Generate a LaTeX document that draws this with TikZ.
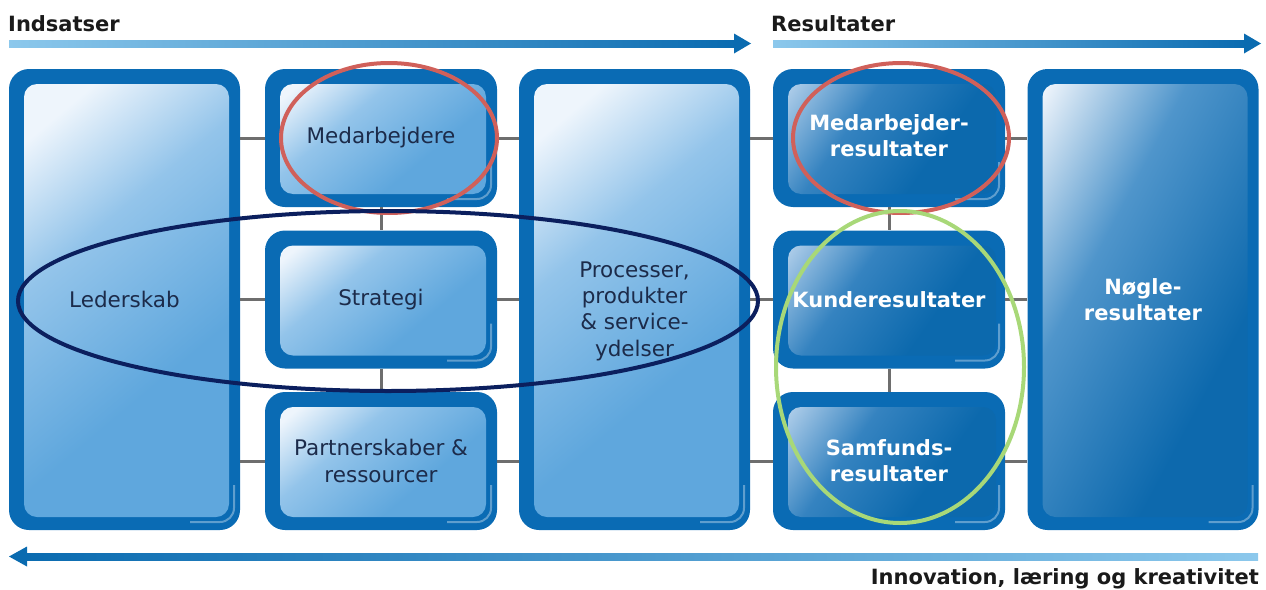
\documentclass[tikz,border=0pt]{standalone}
\usepackage{fontspec}
\setmainfont{DejaVu Sans}
\usetikzlibrary{shapes.geometric}
\definecolor{obox}{HTML}{0A6BB4}
\definecolor{inA}{HTML}{EEF5FC}
\definecolor{inB}{HTML}{93C4EA}
\definecolor{inC}{HTML}{5FA7DD}
\definecolor{rsA}{HTML}{B6D2EC}
\definecolor{rsB}{HTML}{3583C0}
\definecolor{rsC}{HTML}{0C69AD}
\definecolor{ngA}{HTML}{EEF4FB}
\definecolor{ngB}{HTML}{4F95CB}
\definecolor{ngC}{HTML}{0D69AD}
\definecolor{navytext}{HTML}{1C2B4A}
\definecolor{conngray}{HTML}{6E6E6E}
\definecolor{barL}{HTML}{8CC8EC}
\definecolor{barD}{HTML}{0A6BB0}
\definecolor{redell}{HTML}{D0605A}
\definecolor{navyell}{HTML}{0B1F5E}
\definecolor{greenell}{HTML}{A8D878}
\definecolor{headtext}{HTML}{1A1A1A}
\pgfdeclareverticalshading{inshade}{100bp}{color(0bp)=(inC); color(38bp)=(inC); color(60bp)=(inB); color(76bp)=(inA); color(100bp)=(inA)}
\pgfdeclareverticalshading{resshade}{100bp}{color(0bp)=(rsC); color(38bp)=(rsC); color(60bp)=(rsB); color(80bp)=(rsA); color(100bp)=(rsA)}
\pgfdeclareverticalshading{keyshade}{100bp}{color(0bp)=(ngC); color(34bp)=(ngC); color(60bp)=(ngB); color(80bp)=(ngA); color(100bp)=(ngA)}
\begin{document}
\begin{tikzpicture}[x=1pt,y=-1pt,
  outerbox/.style={rounded corners=20pt, fill=obox, inner sep=0pt, align=center},
  glossline/.style={white, opacity=.35, line width=2pt, rounded corners=0pt},
  inbox/.style={outerbox, text=navytext, font=\fontsize{21.5}{26.3}\selectfont,
    path picture={\shade[rounded corners=13pt, shading=inshade, shading angle=40]
      ([shift={(15,15)}]path picture bounding box.north west) rectangle
      ([shift={(-11,-13)}]path picture bounding box.south east);
      \draw[glossline]
      ([shift={(-6,-45)}]path picture bounding box.south east) -- ([shift={(-6,-22)}]path picture bounding box.south east)
      arc[start angle=0, end angle=90, radius=14] -- ++(-30,0);}},
  resbox/.style={outerbox, text=white, font=\bfseries\fontsize{21}{26}\selectfont,
    path picture={\shade[rounded corners=13pt, shading=resshade, shading angle=55]
      ([shift={(15,15)}]path picture bounding box.north west) rectangle
      ([shift={(-9,-13)}]path picture bounding box.south east);
      \draw[glossline]
      ([shift={(-6,-45)}]path picture bounding box.south east) -- ([shift={(-6,-22)}]path picture bounding box.south east)
      arc[start angle=0, end angle=90, radius=14] -- ++(-30,0);}},
  keybox/.style={outerbox, text=white, font=\bfseries\fontsize{21}{26}\selectfont,
    path picture={\shade[rounded corners=13pt, shading=keyshade, shading angle=62]
      ([shift={(15,15)}]path picture bounding box.north west) rectangle
      ([shift={(-11,-13)}]path picture bounding box.south east);
      \draw[glossline]
      ([shift={(-6,-45)}]path picture bounding box.south east) -- ([shift={(-6,-22)}]path picture bounding box.south east)
      arc[start angle=0, end angle=90, radius=14] -- ++(-30,0);}},
  tall/.style={minimum width=231pt, minimum height=461pt},
  small/.style={minimum width=232pt, minimum height=138pt},
  conn/.style={draw=conngray, line width=3pt},
  head/.style={font=\bfseries\fontsize{21}{25}\selectfont, text=headtext, inner sep=0pt},
  ring/.style={ellipse, draw, line width=4pt, inner sep=0pt}
]
\useasboundingbox (0,0) rectangle (1266,589);

% boxes
\node[inbox, tall] (led) at (124.5,299.5) {Lederskab};
\node[inbox, small] (med) at (381,138) {Medarbejdere};
\node[inbox, small] (str) at (381,299.5) {Strategi};
\node[inbox, small] (par) at (381,461) {Partnerskaber \&\\ressourcer};
\node[inbox, tall] (pro) at (634.5,299.5) {\raisebox{-17pt}[0pt][0pt]{\begin{tabular}{@{}c@{}}Processer,\\produkter\\\& service-\\ydelser\end{tabular}}};
\node[resbox, small] (mr) at (889,138) {\raisebox{-5pt}[0pt][0pt]{\begin{tabular}{@{}c@{}}Medarbejder-\\resultater\end{tabular}}};
\node[resbox, small] (kr) at (889,299.5) {Kunderesultater};
\node[resbox, small] (sr) at (889,461) {Samfunds-\\resultater};
\node[keybox, tall] (nr) at (1143,299.5) {Nøgle-\\resultater};

% connectors
\draw[conn] (led.east |- med.west) -- (med.west);
\draw[conn] (led.east |- str.west) -- (str.west);
\draw[conn] (led.east |- par.west) -- (par.west);
\draw[conn] (med.east) -- (med.east -| pro.west);
\draw[conn] (str.east) -- (str.east -| pro.west);
\draw[conn] (par.east) -- (par.east -| pro.west);
\draw[conn] (mr.west) -- (mr.west -| pro.east);
\draw[conn] (kr.west) -- (kr.west -| pro.east);
\draw[conn] (sr.west) -- (sr.west -| pro.east);
\draw[conn] (mr.east) -- (mr.east -| nr.west);
\draw[conn] (kr.east) -- (kr.east -| nr.west);
\draw[conn] (sr.east) -- (sr.east -| nr.west);
\draw[conn] (med.south) -- (str.north);
\draw[conn] (str.south) -- (par.north);
\draw[conn] (mr.south) -- (kr.north);
\draw[conn] (kr.south) -- (sr.north);

% headings and arrows
\node[head, anchor=base west] (t1) at (8,31) {Indsatser};
\node[head, anchor=base west] (t2) at (771,31) {Resultater};
\node[head, anchor=base east] (t3) at (1259,584) {Innovation, læring og kreativitet};

\coordinate (a1s) at (9,43.5);   \coordinate (a1e) at (751,43.5);
\coordinate (a2s) at (773,43.5); \coordinate (a2e) at (1261,43.5);
\coordinate (a3s) at (1258,556.5); \coordinate (a3e) at (9,556.5);
\shade[left color=barL, right color=barD] ([yshift=-3.5]a1s) rectangle ([xshift=-15,yshift=3.5]a1e);
\fill[barD] ([xshift=-17,yshift=-10]a1e) -- (a1e) -- ([xshift=-17,yshift=10]a1e) -- cycle;
\shade[left color=barL, right color=barD] ([yshift=-3.5]a2s) rectangle ([xshift=-15,yshift=3.5]a2e);
\fill[barD] ([xshift=-17,yshift=-10]a2e) -- (a2e) -- ([xshift=-17,yshift=10]a2e) -- cycle;
\shade[left color=barD, right color=barL] ([xshift=15,yshift=-3.5]a3e) rectangle ([yshift=3.5]a3s);
\fill[barD] ([xshift=18,yshift=-10]a3e) -- (a3e) -- ([xshift=18,yshift=10]a3e) -- cycle;

% ellipses
\node[ring, draw=redell, minimum width=216pt, minimum height=150pt] (e1) at (389,138) {};
\node[ring, draw=redell, minimum width=216pt, minimum height=150pt] (e2) at (901,138) {};
\node[ring, draw=navyell, minimum width=740pt, minimum height=180pt] (e3) at (388,301) {};
\node[ring, draw=greenell, minimum width=248pt, minimum height=312pt] (e4) at (900,367) {};
\end{tikzpicture}
\end{document}
